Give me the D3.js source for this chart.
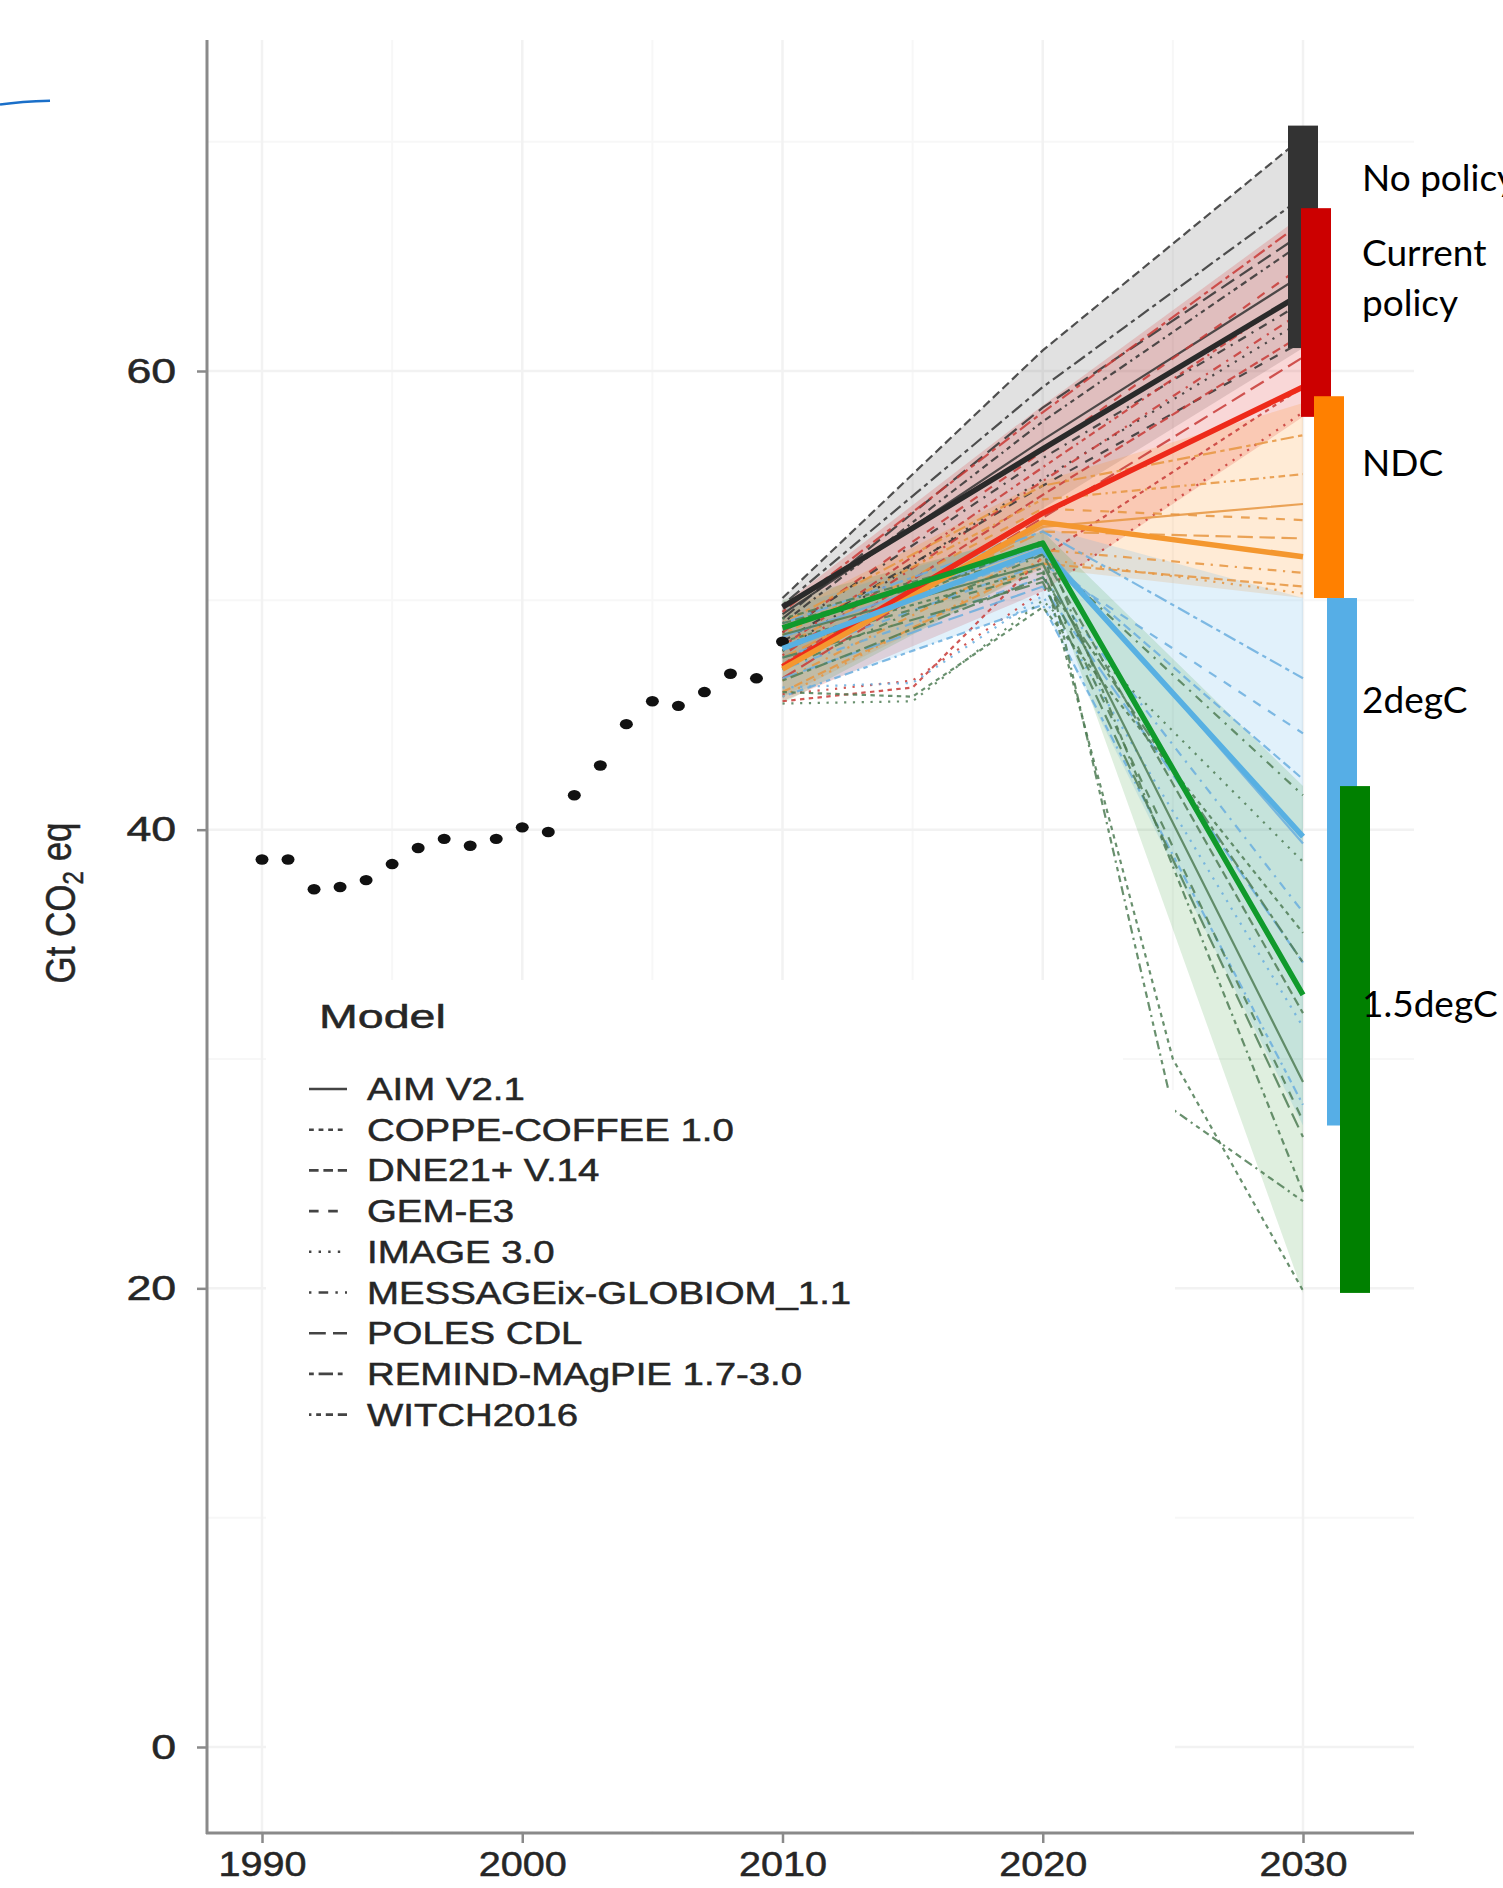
<!DOCTYPE html>
<html><head><meta charset="utf-8">
<script src="https://cdn.jsdelivr.net/npm/d3@7"></script>
<style>html,body{margin:0;padding:0;background:#fff;overflow:hidden} svg{display:block}</style>
</head><body>
<svg id="chart" width="1503" height="1888"></svg>
<script>
// ---------------- DATA ----------------
const histYears  = [1990,1991,1992,1993,1994,1995,1996,1997,1998,1999,2000,2001,2002,2003,2004,2005,2006,2007,2008,2009,2010];
const histValues = [38.7,38.7,37.4,37.5,37.8,38.5,39.2,39.6,39.3,39.6,40.1,39.9,41.5,42.8,44.6,45.6,45.4,46.0,46.8,46.6,48.2];

const scenarioYears = [2010, 2015, 2020, 2025, 2030];
const categories = ["No policy", "Current policy", "NDC", "2degC", "1.5degC"];
const models = ["AIM V2.1","COPPE-COFFEE 1.0","DNE21+ V.14","GEM-E3","IMAGE 3.0",
                "MESSAGEix-GLOBIOM_1.1","POLES CDL","REMIND-MAgPIE 1.7-3.0","WITCH2016"];

// model runs: [model, 2010, 2015, 2020, 2025, 2030]
const noPolicyRuns = [
  ["DNE21+ V.14",          50.1, null, 60.9, null, 70.2],
  ["REMIND-MAgPIE 1.7-3.0",49.8, null, 59.3, null, 67.6],
  ["POLES CDL",            49.2, null, 58.4, null, 66.0],
  ["WITCH2016",            49.0, null, 57.8, null, 65.6],
  ["AIM V2.1",             49.4, null, 57.0, null, 64.2],
  ["MESSAGEix-GLOBIOM_1.1",48.6, null, 56.2, null, 63.0],
  ["IMAGE 3.0",            47.8, null, 55.3, null, 62.2],
  ["GEM-E3",               48.2, null, 55.0, null, 61.3]
];
const currentPolicyRuns = [
  ["REMIND-MAgPIE 1.7-3.0",49.5, null, 58.2, null, 66.5],
  ["GEM-E3",               48.6, null, 56.5, null, 64.6],
  ["WITCH2016",            48.0, null, 55.8, null, 63.5],
  ["MESSAGEix-GLOBIOM_1.1",47.6, null, 55.2, null, 62.6],
  ["DNE21+ V.14",          47.2, null, 54.6, null, 61.6],
  ["POLES CDL",            46.6, null, 53.6, null, 60.6],
  ["COPPE-COFFEE 1.0",     45.6, 46.2, 51.9, null, 59.3],
  ["IMAGE 3.0",            45.9, 46.5, 50.4, null, 58.2]
];
const ndcRuns = [
  ["REMIND-MAgPIE 1.7-3.0",49.0, null, 55.0, null, 57.2],
  ["WITCH2016",            48.5, null, 54.4, null, 55.5],
  ["AIM V2.1",             47.2, null, 53.2, null, 54.2],
  ["GEM-E3",               48.0, null, 54.0, null, 53.5],
  ["POLES CDL",            47.5, null, 53.0, null, 52.7],
  ["MESSAGEix-GLOBIOM_1.1",46.5, null, 52.2, null, 51.2],
  ["DNE21+ V.14",          46.0, null, 51.6, null, 50.6],
  ["IMAGE 3.0",            45.8, null, 51.8, null, 50.3]
];
const twoDegRuns = [
  ["REMIND-MAgPIE 1.7-3.0",49.0, null, 53.0, null, 46.6],
  ["GEM-E3",               47.5, null, 51.6, null, 44.2],
  ["DNE21+ V.14",          48.0, null, 52.0, null, 42.2],
  ["AIM V2.1",             48.4, null, 52.4, null, 39.4],
  ["MESSAGEix-GLOBIOM_1.1",47.0, null, 51.0, null, 36.4],
  ["POLES CDL",            46.6, null, 50.6, null, 34.2],
  ["IMAGE 3.0",            46.2, 46.4, 50.2, null, 31.4],
  ["WITCH2016",            45.8, null, 49.8, null, 28.0]
];
const oneFiveRuns = [
  ["MESSAGEix-GLOBIOM_1.1",47.0, null, 52.0, null, 41.5],
  ["IMAGE 3.0",            45.5, 45.6, 50.0, null, 38.6],
  ["COPPE-COFFEE 1.0",     46.0, 45.8, 49.7, null, 35.5],
  ["REMIND-MAgPIE 1.7-3.0",46.5, null, 51.0, null, 34.2],
  ["DNE21+ V.14",          49.0, null, 52.0, null, 32.0],
  ["AIM V2.1",             48.5, null, 51.6, null, 29.0],
  ["GEM-E3",               48.0, null, 51.2, null, 27.3],
  ["POLES CDL",            47.5, null, 50.8, null, 26.6],
  ["WITCH2016",            47.8, null, 52.6, null, 24.2],
  ["WITCH2016",            49.2, null, 52.4, 27.8, 23.8],
  ["COPPE-COFFEE 1.0",     48.2, null, 51.4, 30.0, 19.9]
];

// category medians at 2010, 2020, 2030
const bandYears = [2010, 2020, 2030];
const medianNoPolicy = [49.7, 56.6, 63.4];
const medianCurrent  = [47.1, 53.8, 59.3];
const medianNDC      = [47.0, 53.4, 51.9];
const medianTwoDeg   = [47.9, 52.2, 39.7];
const medianOneFive  = [48.8, 52.5, 32.8];

// shaded ranges at 2010, 2020, 2030
const bandLowNoPolicy  = [47.0, 54.0, 61.0], bandHighNoPolicy = [50.1, 60.9, 70.2];
const bandLowCurrent   = [45.6, 50.4, 58.0], bandHighCurrent  = [49.8, 58.5, 66.8];
const bandLowNDC       = [45.8, 51.4, 50.1], bandHighNDC      = [49.4, 55.2, 58.6];
const bandLowTwoDeg    = [45.8, 49.8, 27.1], bandHighTwoDeg   = [49.6, 53.2, 50.1];
const bandLowOneFive   = [45.5, 51.5, 19.8], bandHighOneFive  = [50.0, 53.0, 41.9];

// 2030 ranges (bars)
const range2030Low  = [61.0, 58.0, 50.1, 27.1, 19.8];
const range2030High = [70.7, 67.1, 58.9, 50.1, 41.9];

const xTicks = [1990, 2000, 2010, 2020, 2030];
const yTicks = [0, 20, 40, 60];
const legendTitle = "Model";
const labelLines = [["No policy"], ["Current", "policy"], ["NDC"], ["2degC"], ["1.5degC"]];

// ---------------- LAYOUT / STYLE ----------------
const svg = d3.select("#chart");
const panel = {left: 207, right: 1414, top: 40, bottom: 1833};
const x = d3.scaleLinear().domain([1990, 2030]).range([262, 1303]);
const y = d3.scaleLinear().domain([0, 60]).range([1747, 371]);

const runsByCat = [noPolicyRuns, currentPolicyRuns, ndcRuns, twoDegRuns, oneFiveRuns];
const medians = [medianNoPolicy, medianCurrent, medianNDC, medianTwoDeg, medianOneFive];
const bandsLow = [bandLowNoPolicy, bandLowCurrent, bandLowNDC, bandLowTwoDeg, bandLowOneFive];
const bandsHigh = [bandHighNoPolicy, bandHighCurrent, bandHighNDC, bandHighTwoDeg, bandHighOneFive];

const bandColor = ["#333333", "#dd1111", "#ff8000", "#56b4e9", "#1a8f1a"];
const bandOpacity = [0.15, 0.17, 0.16, 0.18, 0.14];
const thinColor = ["#333333", "#c83a36", "#e6953f", "#6aaede", "#4f7d55"];
const thickColor = ["#2a2a2a", "#ee2a1a", "#f4972f", "#58b0e2", "#109a2c"];
const barColor = ["#333333", "#cc0000", "#ff8000", "#56aee6", "#008000"];
const labelBaselines = [[191], [266, 316], [476], [713], [1017]];

const dashUnits = {
  "AIM V2.1": null,
  "COPPE-COFFEE 1.0": [2,2],
  "DNE21+ V.14": [4,2],
  "GEM-E3": [4,4],
  "IMAGE 3.0": [1,3],
  "MESSAGEix-GLOBIOM_1.1": [1,3,4,3],
  "POLES CDL": [7,3],
  "REMIND-MAgPIE 1.7-3.0": [2,2,6,2],
  "WITCH2016": [1,2,2,2,3,2,4,2]
};
const dash = (m, u) => dashUnits[m] ? dashUnits[m].map(v => v * u).join(",") : null;

const FONT = "'Liberation Sans', Arial, Helvetica, sans-serif";
const TXT = "#262626";

// ---------------- GRID ----------------
const grid = svg.append("g");
const xMinor = d3.range(1995, 2035, 10);
const yMinor = [10, 30, 50, 70];
grid.selectAll(".vminor").data(xMinor).join("line")
  .attr("x1", d => x(d)).attr("x2", d => x(d)).attr("y1", panel.top).attr("y2", panel.bottom)
  .attr("stroke", "#f7f7f7").attr("stroke-width", 2);
grid.selectAll(".hminor").data(yMinor).join("line")
  .attr("x1", panel.left).attr("x2", panel.right).attr("y1", d => y(d)).attr("y2", d => y(d))
  .attr("stroke", "#f7f7f7").attr("stroke-width", 2);
grid.selectAll(".vmajor").data(xTicks).join("line")
  .attr("x1", d => x(d)).attr("x2", d => x(d)).attr("y1", panel.top).attr("y2", panel.bottom)
  .attr("stroke", "#f2f2f2").attr("stroke-width", 2.5);
grid.selectAll(".hmajor").data(yTicks).join("line")
  .attr("x1", panel.left).attr("x2", panel.right).attr("y1", d => y(d)).attr("y2", d => y(d))
  .attr("stroke", "#f2f2f2").attr("stroke-width", 2.5);

// ---------------- BANDS ----------------
const area = d3.area().x(d => x(d.year)).y0(d => y(d.lo)).y1(d => y(d.hi));
categories.forEach((c, i) => {
  const pts = bandYears.map((yr, k) => ({year: yr, lo: bandsLow[i][k], hi: bandsHigh[i][k]}));
  svg.append("path").attr("d", area(pts))
    .attr("fill", bandColor[i]).attr("fill-opacity", bandOpacity[i]);
});

// ---------------- THIN RUN LINES ----------------
const line = d3.line().x(d => x(d.year)).y(d => y(d.value));
categories.forEach((c, i) => {
  runsByCat[i].forEach(r => {
    const pts = scenarioYears.map((yr, k) => ({year: yr, value: r[k + 1]})).filter(p => p.value != null);
    svg.append("path").attr("d", line(pts))
      .attr("fill", "none").attr("stroke", thinColor[i]).attr("stroke-width", 2.2)
      .attr("stroke-opacity", 0.85)
      .attr("stroke-dasharray", dash(r[0], 2.2));
  });
});

// ---------------- HISTORICAL POINTS ----------------
svg.append("g").selectAll("ellipse").data(histYears.map((yr, i) => ({year: yr, value: histValues[i]})))
  .join("ellipse")
  .attr("cx", d => x(d.year)).attr("cy", d => y(d.value))
  .attr("rx", 6.5).attr("ry", 5.2).attr("fill", "#111");

// ---------------- MEDIAN LINES ----------------
categories.forEach((c, i) => {
  const pts = bandYears.map((yr, k) => ({year: yr, value: medians[i][k]}));
  svg.append("path").attr("d", line(pts))
    .attr("fill", "none").attr("stroke", thickColor[i]).attr("stroke-width", 5.5)
    .attr("stroke-linejoin", "round");
});

// ---------------- WHITE LEGEND PATCHES (image edits) ----------------
svg.append("rect").attr("x", 266).attr("y", 980).attr("width", 1123 - 266).attr("height", 112).attr("fill", "#fff");
svg.append("rect").attr("x", 266).attr("y", 1090).attr("width", 1175 - 266).attr("height", panel.bottom - 1092).attr("fill", "#fff");

// ---------------- LEGEND ----------------
const lg = svg.append("g");
lg.append("text").attr("transform", "translate(319,1028) scale(1.37,1)")
  .attr("font-family", FONT).attr("font-size", 34).attr("fill", TXT)
  .attr("stroke", TXT).attr("stroke-width", 0.5).text(legendTitle);
models.forEach((m, i) => {
  const by = 1100 + i * 40.7;
  lg.append("line").attr("x1", 309).attr("x2", 347).attr("y1", by - 11).attr("y2", by - 11)
    .attr("stroke", "#444").attr("stroke-width", 2.6).attr("stroke-dasharray", dash(m, 2.4));
  lg.append("text").attr("transform", `translate(367,${by}) scale(1.2,1)`)
    .attr("font-family", FONT).attr("font-size", 32).attr("fill", TXT)
    .attr("stroke", TXT).attr("stroke-width", 0.5).text(m);
});

// ---------------- AXES ----------------
svg.append("line").attr("x1", panel.left).attr("x2", panel.left).attr("y1", panel.top).attr("y2", panel.bottom + 1)
  .attr("stroke", "#8a8a8a").attr("stroke-width", 3);
svg.append("line").attr("x1", panel.left - 1).attr("x2", panel.right).attr("y1", panel.bottom).attr("y2", panel.bottom)
  .attr("stroke", "#8a8a8a").attr("stroke-width", 3);

const yAxis = svg.append("g").attr("transform", `translate(${panel.left},0)`)
  .call(d3.axisLeft(y).tickValues(yTicks).tickSize(10).tickPadding(14).tickFormat(d3.format("d")));
yAxis.select(".domain").remove();
yAxis.selectAll("line").attr("stroke", "#8a8a8a").attr("stroke-width", 2.5);
yAxis.selectAll("text").attr("font-family", FONT).attr("font-size", 35).attr("fill", TXT)
  .attr("stroke", TXT).attr("stroke-width", 0.5)
  .attr("transform", "scale(1.28,1)");

const xAxis = svg.append("g").attr("transform", `translate(0,${panel.bottom})`)
  .call(d3.axisBottom(x).tickValues(xTicks).tickSize(10).tickPadding(7).tickFormat(d3.format("d")));
xAxis.select(".domain").remove();
xAxis.selectAll("line").attr("stroke", "#8a8a8a").attr("stroke-width", 2.5);
xAxis.selectAll("text").attr("font-family", FONT).attr("font-size", 36).attr("fill", TXT)
  .attr("stroke", TXT).attr("stroke-width", 0.5)
  .attr("transform", "scale(1.1,1)");

const yt = svg.append("text").attr("transform", "translate(60,903) scale(1.2,1) rotate(-90)")
  .attr("font-family", FONT).attr("font-size", 35).attr("fill", TXT)
  .attr("stroke", TXT).attr("stroke-width", 0.4)
  .attr("text-anchor", "middle").attr("dy", "0.35em");
yt.append("tspan").text("Gt CO");
yt.append("tspan").attr("font-size", 24).attr("dy", "0.3em").text("2");
yt.append("tspan").attr("dy", "-0.3em").text(" eq");

// ---------------- 2030 RANGE BARS ----------------
categories.forEach((c, i) => {
  svg.append("rect")
    .attr("x", x(2030) - 15 + i * 13).attr("width", 30)
    .attr("y", y(range2030High[i])).attr("height", y(range2030Low[i]) - y(range2030High[i]))
    .attr("fill", barColor[i]);
});

// ---------------- LABELS ----------------
categories.forEach((c, i) => {
  labelLines[i].forEach((t, k) => {
    svg.append("text").attr("x", 1362).attr("y", labelBaselines[i][k])
      .attr("font-family", "Lato, 'Open Sans', sans-serif").attr("font-size", 37).attr("fill", "#000")
      .text(t);
  });
});

// hand-drawn blue stroke top-left
svg.append("path").attr("d", "M0,104.5 C15,102.3 30,101.2 50,100.7")
  .attr("fill", "none").attr("stroke", "#1a6fc9").attr("stroke-width", 2.6);
</script>
</body></html>
